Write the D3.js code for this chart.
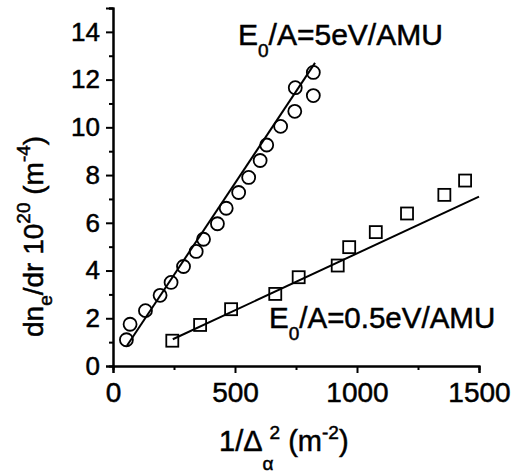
<!DOCTYPE html>
<html>
<head>
<meta charset="utf-8">
<script src="https://cdn.jsdelivr.net/npm/d3@7"></script>
<style>
  body { margin: 0; background: #fff; }
  svg text { font-family: "Liberation Sans", Arial, sans-serif; fill: #000; stroke: #000; stroke-width: 0.5px; }
</style>
</head>
<body>
<svg class="plot_svg" width="526" height="474"></svg>
<script>
// 5 eV/AMU series (circles)
let circ_x = [55, 70, 133, 193, 238, 289, 341, 371, 428, 464, 515, 556, 603, 630, 687, 745, 747, 821, 821];
let circ_y = [1.1, 1.75, 2.32, 2.96, 3.5, 4.17, 4.8, 5.31, 5.96, 6.61, 7.27, 7.9, 8.61, 9.26, 10.04, 10.67, 11.66, 11.33, 12.3];
// 0.5 eV/AMU series (squares)
let sq_x = [243, 357, 484, 665, 761, 921, 968, 1077, 1205, 1358, 1443];
let sq_y = [1.06, 1.72, 2.38, 3.02, 3.72, 4.21, 4.98, 5.61, 6.39, 7.17, 7.77];
// fitted lines (end points)
let fit5_x = [57, 828];
let fit5_y = [0.85, 12.7];
let fit05_x = [245, 1500];
let fit05_y = [1.12, 7.1];

let x_major = [0, 500, 1000, 1500];
let x_minor = [250, 750, 1250];
let y_major = [0, 2, 4, 6, 8, 10, 12, 14];
let y_minor = [1, 3, 5, 7, 9, 11, 13, 15];

let svg = d3.select("svg.plot_svg");

let x = d3.scaleLinear().domain([0, 1500]).range([113, 479]);
let y = d3.scaleLinear().domain([0, 15]).range([366, 8]);

/* Axes: minor ticks first, then major ticks with labels */
let gx = svg.append("g").attr("transform", "translate(0," + y(0) + ")");
gx.call(d3.axisBottom(x).tickValues(x_minor).tickSize(4).tickFormat(""));
gx.append("g").call(d3.axisBottom(x).tickValues(x_major).tickSize(7).tickPadding(4).tickFormat(d3.format("d")));

let gy = svg.append("g").attr("transform", "translate(" + x(0) + ",0)");
gy.call(d3.axisLeft(y).tickValues(y_minor).tickSize(4).tickFormat(""));
gy.append("g").call(d3.axisLeft(y).tickValues(y_major).tickSize(7).tickPadding(6));

svg.selectAll(".domain").attr("stroke", "#000").attr("stroke-width", 2);
svg.selectAll(".tick line").attr("stroke", "#000").attr("stroke-width", 2);
gx.selectAll(".tick text").attr("font-size", 28).attr("font-family", "Liberation Sans, Arial, sans-serif").attr("dy", "0.9em");
gy.selectAll(".tick text").attr("font-size", 26).attr("font-family", "Liberation Sans, Arial, sans-serif");
// inner major axes repeat the domain line, hide the copies
gx.select("g").select(".domain").remove();
gy.select("g").select(".domain").remove();

/* Fit lines */
let line = d3.line().x(d => x(d[0])).y(d => y(d[1]));
svg.append("path").datum(d3.zip(fit5_x, fit5_y))
    .attr("d", line).attr("fill", "none").attr("stroke", "#000").attr("stroke-width", 2);
svg.append("path").datum(d3.zip(fit05_x, fit05_y))
    .attr("d", line).attr("fill", "none").attr("stroke", "#000").attr("stroke-width", 2);

/* Markers */
svg.selectAll("circle.c5").data(d3.zip(circ_x, circ_y)).enter()
    .append("circle").attr("class", "c5")
    .attr("cx", d => x(d[0])).attr("cy", d => y(d[1])).attr("r", 6.5)
    .attr("fill", "none").attr("stroke", "#000").attr("stroke-width", 1.8);

let sq = 12;
svg.selectAll("rect.s05").data(d3.zip(sq_x, sq_y)).enter()
    .append("rect").attr("class", "s05")
    .attr("x", d => x(d[0]) - sq / 2).attr("y", d => y(d[1]) - sq / 2)
    .attr("width", sq).attr("height", sq)
    .attr("fill", "none").attr("stroke", "#000").attr("stroke-width", 1.8);

/* Series labels */
function series_label(px, py, value, fs) {
    let t = svg.append("text").attr("x", px).attr("y", py).attr("font-size", fs);
    t.append("tspan").text("E");
    t.append("tspan").attr("font-size", 19).attr("dy", 12).text("0");
    t.append("tspan").attr("dy", -12).text("/A=" + value + "eV/AMU");
}
series_label(238, 45, "5", 30);
series_label(269, 328, "0.5", 29.5);

/* X axis title */
let xt = svg.append("text").attr("x", 219).attr("y", 451).attr("font-size", 29);
xt.append("tspan").text("1/\u0394");
xt.append("tspan").attr("font-size", 19).attr("dy", 19).text("\u03b1");
xt.append("tspan").attr("font-size", 19).attr("dx", -4).attr("dy", -31).text("2");
xt.append("tspan").attr("dy", 12).text(" (m");
xt.append("tspan").attr("font-size", 19).attr("dy", -12).text("-2");
xt.append("tspan").attr("dy", 12).text(")");

/* Y axis title */
let yt = svg.append("text").attr("transform", "translate(43,337) rotate(-90)").attr("font-size", 28);
yt.append("tspan").text("dn");
yt.append("tspan").attr("font-size", 19).attr("dy", 9).text("e");
yt.append("tspan").attr("dy", -9).text("/dr 10");
yt.append("tspan").attr("font-size", 19).attr("dy", -13).text("20");
yt.append("tspan").attr("dy", 13).text(" (m");
yt.append("tspan").attr("font-size", 19).attr("dy", -13).text("-4");
yt.append("tspan").attr("dy", 13).text(")");
</script>
</body>
</html>
